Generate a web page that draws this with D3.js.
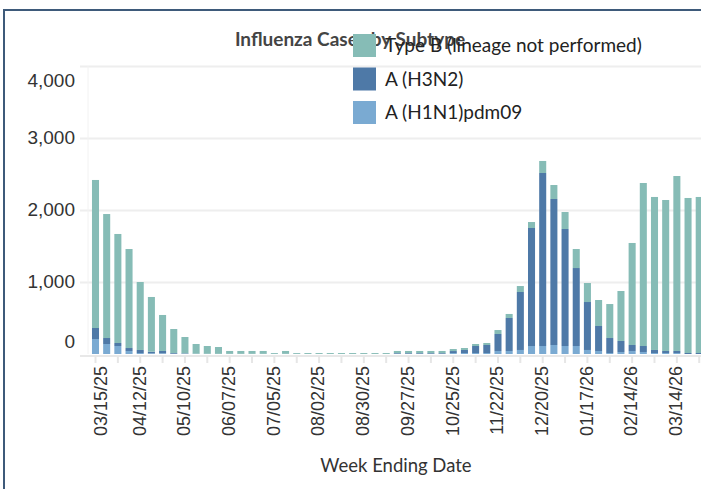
<!DOCTYPE html>
<html>
<head>
<meta charset="utf-8">
<script src="https://cdn.jsdelivr.net/npm/d3@7"></script>
<style>
  body { margin: 0; background: #fff; }
  svg { display: block; font-family: Lato, "Open Sans", sans-serif; }
  .y-axis text { fill: #333; font-size: 19px; }
  .x-axis text { fill: #333; font-size: 18px; }
</style>
</head>
<body>
<div id="chart"></div>
<script>
// Influenza cases by subtype - stacked weekly bars
var weeks = ["03/15/25","03/22/25","03/29/25","04/05/25","04/12/25","04/19/25","04/26/25",
  "05/03/25","05/10/25","05/17/25","05/24/25","05/31/25","06/07/25","06/14/25","06/21/25",
  "06/28/25","07/05/25","07/12/25","07/19/25","07/26/25","08/02/25","08/09/25","08/16/25",
  "08/23/25","08/30/25","09/06/25","09/13/25","09/20/25","09/27/25","10/04/25","10/11/25",
  "10/18/25","10/25/25","11/01/25","11/08/25","11/15/25","11/22/25","11/29/25","12/06/25",
  "12/13/25","12/20/25","12/27/25","01/03/26","01/10/26","01/17/26","01/24/26","01/31/26",
  "02/07/26","02/14/26","02/21/26","02/28/26","03/07/26","03/14/26","03/21/26","03/28/26"];

var typeB = [2056,1722,1514,1375,944,760,500,333,226,135,108,95,40,40,40,40,12,40,12,13,
  13,13,13,13,13,13,13,30,30,30,30,30,28,27,28,28,55,56,83,83,167,194,236,264,264,361,
  472,694,1417,2264,2125,2097,2430,2153,2167];
var h3n2 = [153,83,42,41,42,22,32,10,6,2,2,1,1,1,1,1,1,1,1,1,1,1,1,1,1,1,1,10,10,10,10,10,
  28,42,97,111,236,458,805,1639,2403,2028,1625,1083,666,347,208,153,83,83,42,28,28,14,14];
var h1n1 = [208,139,111,42,14,10,10,4,4,2,1,1,1,1,1,1,1,1,1,0,0,0,0,0,0,0,0,2,2,2,2,2,
  13,14,14,14,42,42,56,111,111,125,111,111,56,42,14,28,42,28,14,14,14,0,0];

var yTicks = [0, 1000, 2000, 3000, 4000];

var seriesKeys = ["h1n1", "h3n2", "typeB"];
var seriesNames = {
  "typeB": "Type B (lineage not performed)",
  "h3n2": "A (H3N2)",
  "h1n1": "A (H1N1)pdm09"
};
var colors = {
  "typeB": "#86bcb6",
  "h3n2": "#4e79a7",
  "h1n1": "#7aaad2"
};

var svgWidth = 701;
var svgHeight = 489;
var plot = { left: 88, top: 66, bottom: 354 };

var svg = d3.select("#chart")
  .append("svg")
  .attr("width", svgWidth)
  .attr("height", svgHeight);

// outer frame
svg.append("rect")
  .attr("x", 4)
  .attr("y", 10)
  .attr("width", svgWidth + 10)
  .attr("height", svgHeight)
  .attr("fill", "none")
  .attr("stroke", "#3e5a7a")
  .attr("stroke-width", 2);

var table = weeks.map(function(w, i) {
  return { week: w, typeB: typeB[i], h3n2: h3n2[i], h1n1: h1n1[i] };
});

// band step ~11.2px per week, plot runs past the right edge
var step = 11.18;
var xScale = d3.scaleBand()
  .domain(weeks)
  .range([95.5 - step / 2, 95.5 - step / 2 + step * weeks.length])
  .paddingInner(0.37)
  .paddingOuter(0.185);

var yScale = d3.scaleLinear()
  .domain([0, 4000])
  .range([plot.bottom, plot.top]);

// gridlines
svg.append("g")
  .attr("transform", "translate(80,0)")
  .call(d3.axisLeft(yScale).tickValues(yTicks.slice(1)).tickSize(-(svgWidth - 80)).tickFormat(""))
  .call(function(g) { g.select(".domain").remove(); })
  .selectAll("line")
  .attr("stroke", "#eeeeee")
  .attr("stroke-width", 2);

// faint vertical axis line
svg.append("line")
  .attr("x1", plot.left).attr("x2", plot.left)
  .attr("y1", plot.top).attr("y2", plot.bottom)
  .attr("stroke", "#f2f2f2")
  .attr("stroke-width", 1);

// stacked bars
var stack = d3.stack().keys(seriesKeys)(table);

svg.append("g")
  .selectAll("g")
  .data(stack)
  .enter()
  .append("g")
  .attr("fill", function(d) { return colors[d.key]; })
  .selectAll("rect")
  .data(function(d) { return d; })
  .enter()
  .append("rect")
  .attr("x", function(d) { return xScale(d.data.week); })
  .attr("width", xScale.bandwidth())
  .attr("y", function(d) { return yScale(d[1]); })
  .attr("height", function(d) { return yScale(d[0]) - yScale(d[1]); });

// x axis: tick every 2 weeks, label every 4 weeks
var xAxis = svg.append("g")
  .classed("x-axis", true)
  .attr("transform", "translate(0," + (plot.bottom + 2) + ")")
  .call(d3.axisBottom(xScale)
    .tickValues(weeks.filter(function(d, i) { return i % 2 === 0; }))
    .tickSize(7)
    .tickFormat(function(d) { return weeks.indexOf(d) % 4 === 0 ? d : ""; }));

xAxis.select(".domain")
  .attr("stroke", "#e8e8e8")
  .attr("stroke-width", 2)
  .attr("d", "M80,0H" + svgWidth);

xAxis.selectAll(".tick line")
  .attr("stroke", "#e6e6e6")
  .attr("stroke-width", 2);

xAxis.selectAll(".tick text")
  .attr("transform", "rotate(-90)")
  .attr("x", -10)
  .attr("y", function(d) { return weeks.indexOf(d) === 0 ? 5 : -1; })
  .attr("dy", "0.35em")
  .style("text-anchor", "end");

// y axis labels, kept inside the plot at the ends
var yAxis = svg.append("g")
  .classed("y-axis", true)
  .attr("transform", "translate(" + plot.left + ",0)")
  .call(d3.axisLeft(yScale).tickValues(yTicks).tickSize(0).tickPadding(13).tickFormat(d3.format(",")));

yAxis.select(".domain").remove();
yAxis.selectAll(".tick")
  .attr("transform", function(d) {
    var y = Math.max(plot.top + 15, Math.min(plot.bottom - 12, yScale(d)));
    return "translate(0," + y + ")";
  });

// title
svg.append("text")
  .attr("x", 350)
  .attr("y", 39)
  .attr("dy", "0.35em")
  .attr("text-anchor", "middle")
  .attr("font-size", "19px")
  .attr("font-weight", "bold")
  .attr("fill", "#444")
  .text("Influenza Cases by Subtype");

// legend drawn over the title
var legendKeys = ["typeB", "h3n2", "h1n1"];
var legend = svg.append("g")
  .selectAll("g")
  .data(legendKeys)
  .enter()
  .append("g")
  .attr("transform", function(d, i) { return "translate(353," + (34 + i * 33.5) + ")"; });

legend.append("rect")
  .attr("width", 23)
  .attr("height", 23)
  .attr("fill", function(d) { return colors[d]; });

legend.append("text")
  .attr("x", 32)
  .attr("y", 11.5)
  .attr("dy", "0.35em")
  .attr("font-size", "19px")
  .attr("fill", "#222")
  .text(function(d) { return seriesNames[d]; });

// x axis title
svg.append("text")
  .attr("x", 396)
  .attr("y", 466)
  .attr("dy", "0.35em")
  .attr("text-anchor", "middle")
  .attr("font-size", "18.5px")
  .attr("fill", "#333")
  .text("Week Ending Date");
</script>
</body>
</html>
